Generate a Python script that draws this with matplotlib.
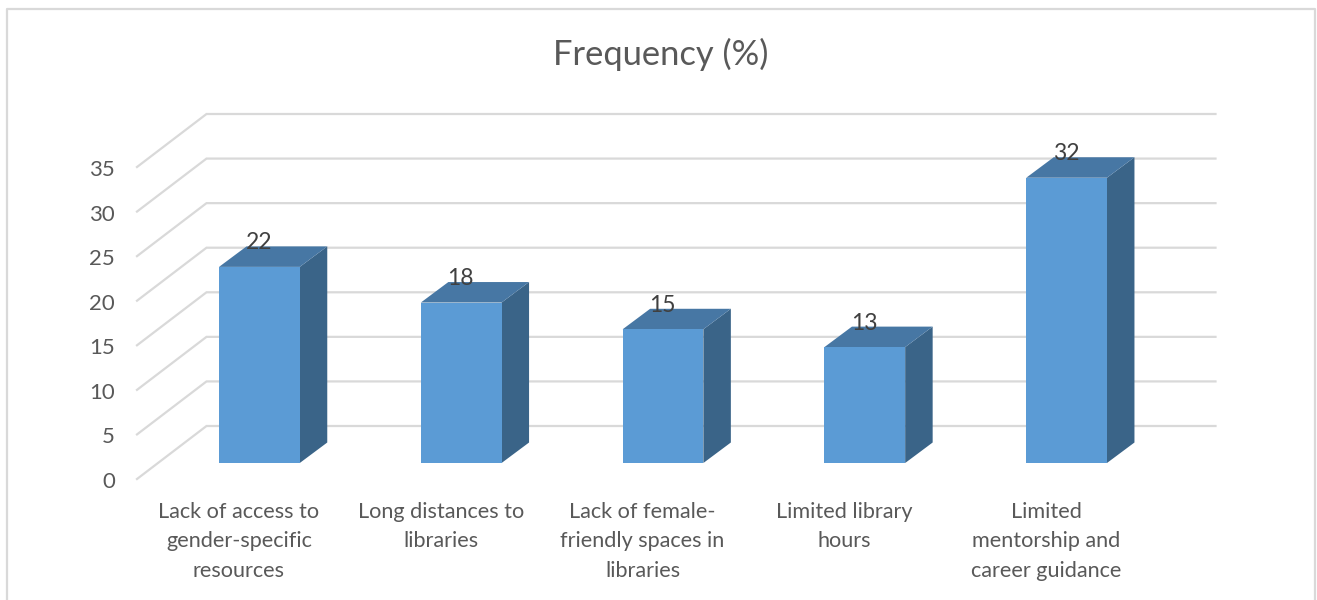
import matplotlib
matplotlib.use("Agg")
import matplotlib.pyplot as plt
from matplotlib.patches import Polygon, Rectangle
from matplotlib.transforms import Affine2D

categories = ["Lack of access to\ngender-specific\nresources",
              "Long distances to\nlibraries",
              "Lack of female-\nfriendly spaces in\nlibraries",
              "Limited library\nhours",
              "Limited\nmentorship and\ncareer guidance"]
values = [22, 18, 15, 13, 32]
value_labels = ["22", "18", "15", "13", "32"]
y_ticks = [0, 5, 10, 15, 20, 25, 30, 35]
title = "Frequency (%)"

W, H = 1317, 600
plt.rcParams['font.family'] = ['Lato', 'DejaVu Sans']
fig = plt.figure(figsize=(W / 100, H / 100), dpi=100, facecolor='white')

L, R, B, T = 137, 1146, 479, 167
ax = fig.add_axes([L / W, 1 - B / H, (R - L) / W, (B - T) / H])
ax.set_xlim(-0.5, 4.5)
ax.set_ylim(0, 35)
ax.patch.set_visible(False)
for s in ax.spines.values():
    s.set_visible(False)


def off(dx, dy):
    return ax.transData + Affine2D().translate(dx, dy)


GRID = '#d9d9d9'
DX, DY = 69.5, 53
for v in y_ticks:
    p0 = ax.transData.transform((-0.5, v))
    p2 = ax.transData.transform((4.5, v))
    xs = [p0[0], p0[0] + DX, p2[0] + DX]
    ys = [p0[1], p0[1] + DY, p2[1] + DY]
    ax.plot(xs, ys, color=GRID, lw=1.6, transform=None, clip_on=False,
            solid_joinstyle='miter', zorder=1)

# Bars: the front face sits inside the depth of the chart
BAR_W = 0.4
FX, FY = 21.5, 16
SX, SY = 27.5, 20.5
FRONT, TOP, SIDE = '#5b9bd5', '#4777a4', '#3a6488'
for i, v in enumerate(values):
    x0, x1 = i - BAR_W / 2, i + BAR_W / 2
    ax.add_patch(Rectangle((x0, 0), BAR_W, v, facecolor=FRONT, edgecolor='none',
                           transform=off(FX, FY), zorder=4, clip_on=False))
    bl = ax.transData.transform((x1, 0))
    tl = ax.transData.transform((x1, v))
    tf = ax.transData.transform((x0, v))
    side = [(bl[0] + FX, bl[1] + FY), (tl[0] + FX, tl[1] + FY),
            (tl[0] + FX + SX, tl[1] + FY + SY), (bl[0] + FX + SX, bl[1] + FY + SY)]
    top = [(tf[0] + FX, tf[1] + FY), (tl[0] + FX, tl[1] + FY),
           (tl[0] + FX + SX, tl[1] + FY + SY), (tf[0] + FX + SX, tf[1] + FY + SY)]
    ax.add_patch(Polygon(side, closed=True, facecolor=SIDE, edgecolor='none',
                         transform=None, zorder=3, clip_on=False))
    ax.add_patch(Polygon(top, closed=True, facecolor=TOP, edgecolor='none',
                         transform=None, zorder=3, clip_on=False))
    ax.text(i, v, value_labels[i], transform=off(FX - 0.5, FY + 24), ha='center', va='center',
            fontsize=16.5, color='#404040', zorder=6)

ax.set_yticks(y_ticks)
ax.set_xticks(range(len(categories)))
ax.set_xticklabels(categories, linespacing=1.59)
ax.tick_params(axis='y', length=0, pad=15.8, labelsize=16, labelcolor='#595959')
ax.tick_params(axis='x', length=0, pad=16.5, labelsize=15.6, labelcolor='#595959')
for lab in ax.get_xticklabels():
    lab.set_ha('center')
    lab.set_transform(lab.get_transform() + Affine2D().translate(1, 0))
for lab in ax.get_yticklabels():
    lab.set_transform(lab.get_transform() + Affine2D().translate(0, -1))

fig.text(661 / W, 1 - 54 / H, title, ha='center', va='center', fontsize=24.8, color='#595959')

# Chart frame (open at the bottom edge of the image)
fig.add_artist(plt.Line2D([7 / W, 7 / W, 1314.5 / W, 1314.5 / W],
                          [0, 1 - 9 / H, 1 - 9 / H, 0],
                          color='#d9d9d9', lw=1.6, transform=fig.transFigure))

fig.savefig('out.png', dpi=100, facecolor='white')
